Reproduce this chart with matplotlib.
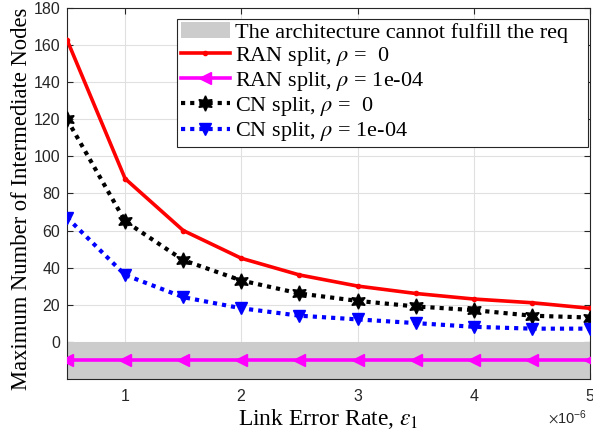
import numpy as np
import matplotlib.pyplot as plt
from matplotlib.patches import Patch
from matplotlib.lines import Line2D

# link error rate (x 1e-6)
eps = np.array([0.5, 1.0, 1.5, 2.0, 2.5, 3.0, 3.5, 4.0, 4.5, 5.0]) * 1e-6
ran_rho0 = [163, 88, 60, 45, 36, 30, 26, 23, 21, 18]
ran_rho1 = [-10, -10, -10, -10, -10, -10, -10, -10, -10, -10]
cn_rho0 = [120, 65, 44, 33, 26, 22, 19, 17, 14, 13]
cn_rho1 = [67, 36, 24, 18, 14, 12, 10, 8, 7, 7]
infeasible = (-20, 0)

labels = ["The architecture cannot fulfill the req   ",
          r"RAN split, $\rho$ =  0",
          r"RAN split, $\rho$ = 1e-04",
          r"CN split, $\rho$ =  0",
          r"CN split, $\rho$ = 1e-04"]


def main():
    plt.rcParams['mathtext.fontset'] = 'stix'
    plt.rcParams['font.family'] = 'Liberation Sans'
    dark = (0.15, 0.15, 0.15)

    fig = plt.figure(figsize=(5.93, 4.38), dpi=100)
    ax = fig.add_axes([0.113, 0.1355, 0.882, 0.8455])

    ax.axhspan(infeasible[0], infeasible[1], color=(0.8, 0.8, 0.8), lw=0, zorder=1)
    ax.plot(eps, ran_rho0, color='red', lw=2.6, marker='.', ms=6, zorder=3)
    ax.plot(eps, ran_rho1, color='magenta', lw=2.6, marker='<', ms=9, zorder=3)
    ax.plot(eps, cn_rho0, color='black', lw=3, ls=(0, (1, 1.2)), marker=(6, 1, 0), ms=11, zorder=3)
    ax.plot(eps, cn_rho1, color='blue', lw=3, ls=(0, (1, 1.2)), marker='v', ms=9, zorder=3)

    ax.set_xlim(0.5e-6, 5e-6)
    ax.set_ylim(-20, 180)
    ax.set_xticks(np.arange(1, 6) * 1e-6)
    ax.set_yticks(np.arange(0, 181, 20))
    ax.ticklabel_format(axis='x', style='sci', scilimits=(0, 0), useMathText=True)
    off = ax.xaxis.get_offset_text()
    off.set_fontsize(10.5)
    off.set_color(dark)
    off.set_x(0.995)

    ax.grid(True, color=(0.88, 0.88, 0.88), lw=0.8, zorder=0)
    ax.set_axisbelow(True)
    ax.tick_params(direction='in', top=True, right=True, labelsize=11.5,
                   colors=dark, length=4)
    ax.tick_params(axis='x', pad=7)
    ax.tick_params(axis='y', pad=5)
    for s in ax.spines.values():
        s.set_color(dark)
        s.set_linewidth(0.8)

    ax.set_xlabel(r"Link Error Rate, $\epsilon_{\rm 1}$", fontsize=17,
                  family='Liberation Serif', labelpad=2)
    ax.set_ylabel("Maximum Number of Intermediate Nodes", fontsize=16.3,
                  family='Liberation Serif')
    ax.yaxis.set_label_coords(-0.066, 0.485)

    handles = [Patch(facecolor=(0.8, 0.8, 0.8), edgecolor='none'),
               Line2D([], [], color='red', lw=2.6, marker='.', ms=6),
               Line2D([], [], color='magenta', lw=2.6, marker='<', ms=9),
               Line2D([], [], color='black', lw=3, ls=(0, (1, 1.2)), marker=(6, 1, 0), ms=11),
               Line2D([], [], color='blue', lw=3, ls=(0, (1, 1.2)), marker='v', ms=9)]
    leg = ax.legend(handles, labels, loc='upper right', bbox_to_anchor=(0.997, 0.972),
                    prop={'family': 'Liberation Serif', 'size': 16},
                    handlelength=2.2, handletextpad=0.25, borderpad=0.15,
                    labelspacing=0.1, borderaxespad=0, fancybox=False, framealpha=1)
    leg.get_frame().set_edgecolor(dark)
    leg.get_frame().set_linewidth(0.8)

    plt.savefig("out.png", dpi=100)


if __name__ == '__main__':
    main()
